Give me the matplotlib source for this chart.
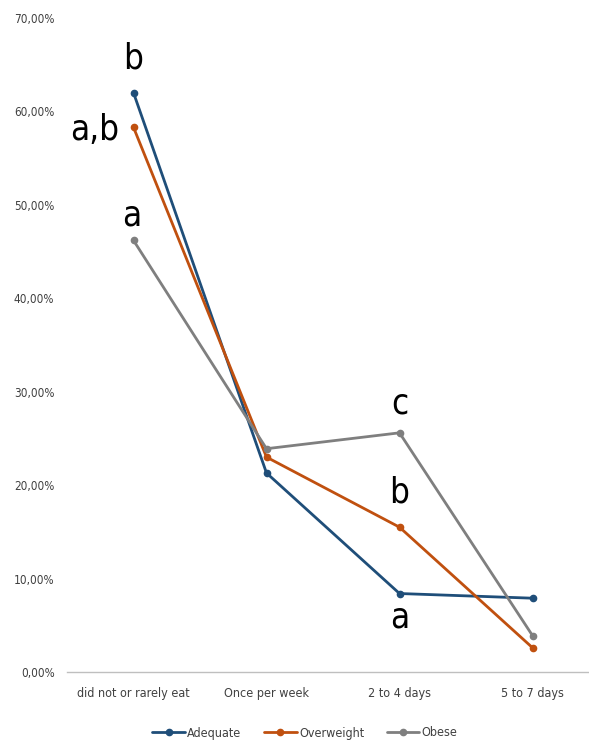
import matplotlib.pyplot as plt
from matplotlib.ticker import FuncFormatter

plt.rcParams['font.family'] = ['DejaVu Sans']
plt.rcParams['font.stretch'] = 'condensed'

# ── Dados ─────────────────────────────────────────────────────────────────────
categorias = ['did not or rarely eat', 'Once per week', '2 to 4 days', '5 to 7 days']
adequate = [62.0, 21.3, 8.4, 7.9]
overweight = [58.3, 23.0, 15.5, 2.6]
obese = [46.2, 23.9, 25.6, 3.9]

# letras de significância: (série, índice, texto)
letras = [('adequate', 0, 'b'), ('overweight', 0, 'a,b'), ('obese', 0, 'a'),
          ('obese', 2, 'c'), ('overweight', 2, 'b'), ('adequate', 2, 'a')]

series = {'adequate': adequate, 'overweight': overweight, 'obese': obese}
cores = {'adequate': '#1F4E79', 'overweight': '#C0500F', 'obese': '#7F7F7F'}
nomes = {'adequate': 'Adequate', 'overweight': 'Overweight', 'obese': 'Obese'}

# deslocamento (pontos) de cada letra em relação ao marcador
desloc = {('adequate', 0): (0, 25, 'center'),
          ('overweight', 0): (-10, -2, 'right'),
          ('obese', 0): (-1, 18, 'center'),
          ('obese', 2): (0, 21, 'center'),
          ('overweight', 2): (0, 25, 'center'),
          ('adequate', 2): (0, -17, 'center')}

fig = plt.figure(figsize=(5.89, 7.42), dpi=100)
ax = fig.add_axes([67 / 589, 70 / 742, 532 / 589, 654 / 742])

x = list(range(len(categorias)))
for k in ['adequate', 'overweight', 'obese']:
    ax.plot(x, series[k], color=cores[k], lw=2.0, marker='o', ms=4.5,
            label=nomes[k], solid_capstyle='round')

for k, i, txt in letras:
    dx, dy, ha = desloc[(k, i)]
    ax.annotate(txt, (i, series[k][i]), xytext=(dx, dy), textcoords='offset points',
                ha=ha, va='center', fontsize=25, color='black')

ax.set_xlim(-0.5, 3.5)
ax.set_ylim(0, 70)
ax.set_yticks(range(0, 71, 10))
ax.yaxis.set_major_formatter(FuncFormatter(lambda v, p: f'{v:.2f}%'.replace('.', ',')))
ax.set_xticks(x)
ax.set_xticklabels(categorias)
ax.tick_params(axis='y', length=0, pad=9, labelsize=8.5, labelcolor='#404040')
ax.tick_params(axis='x', length=0, pad=11, labelsize=9, labelcolor='#404040')

for s in ['top', 'right', 'left']:
    ax.spines[s].set_visible(False)
ax.spines['bottom'].set_color('#BFBFBF')
ax.spines['bottom'].set_linewidth(1.0)

fig.legend(loc='center', bbox_to_anchor=(305 / 589, 9 / 742), ncol=3, frameon=False,
           fontsize=9, handlelength=2.6, columnspacing=1.8, handletextpad=0.2,
           labelcolor='#404040')

plt.savefig('out.png', dpi=100)
